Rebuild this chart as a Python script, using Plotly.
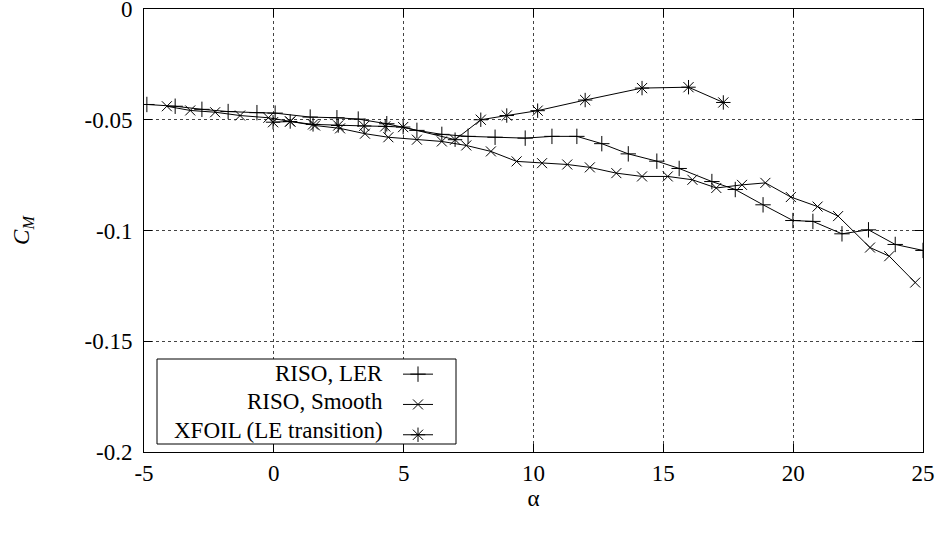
import plotly.graph_objects as go

# ---- data ----
alpha_ler = [-4.89, -3.80, -2.77, -1.76, -0.65, 0.05, 1.40, 2.43, 3.25, 4.35, 5.51, 6.47, 7.48, 8.52,
             9.68, 10.71, 11.67, 12.63, 13.65, 14.75, 15.61, 16.87, 17.77, 18.84, 19.99, 20.76,
             21.88, 22.90, 23.93, 25.0]
cm_ler = [-0.0431, -0.0439, -0.0453, -0.0463, -0.0468, -0.0470, -0.0488, -0.0491, -0.0497, -0.0518,
          -0.0548, -0.0566, -0.0575, -0.0579, -0.0583, -0.0575, -0.0575, -0.0608, -0.0654, -0.0687,
          -0.0720, -0.0779, -0.0815, -0.0884, -0.0955, -0.0959, -0.1015, -0.0997, -0.1063, -0.1090]

alpha_smooth = [-4.12, -3.22, -2.26, -1.30, -0.21, 0.63, 1.59, 2.55, 3.51, 4.41, 5.51, 6.47, 7.41, 8.36,
                9.35, 10.33, 11.30, 12.17, 13.19, 14.18, 15.17, 16.12, 17.04, 18.03, 18.93, 19.91,
                20.94, 21.73, 22.96, 23.70, 24.70]
cm_smooth = [-0.0439, -0.0458, -0.0466, -0.0481, -0.0491, -0.0508, -0.0526, -0.0539, -0.0563, -0.0579,
             -0.0590, -0.0598, -0.0616, -0.0643, -0.0688, -0.0696, -0.0702, -0.0715, -0.0741, -0.0756,
             -0.0756, -0.0771, -0.0808, -0.0794, -0.0785, -0.0849, -0.0892, -0.0935, -0.1077, -0.1116,
             -0.1235]

alpha_xfoil = [-0.03, 0.63, 1.51, 2.48, 3.48, 4.29, 4.98, 6.98, 7.97, 8.97, 10.16, 11.99, 14.18, 15.97, 17.31]
cm_xfoil = [-0.0511, -0.0508, -0.0521, -0.0526, -0.0528, -0.0530, -0.0533, -0.0590, -0.0500, -0.0481,
            -0.0459, -0.0411, -0.0357, -0.0353, -0.0422]

series_names = ["RISO, LER", "RISO, Smooth", "XFOIL (LE transition)"]
x_tickvals = [-5, 0, 5, 10, 15, 20, 25]
x_ticktext = ["-5", "0", "5", "10", "15", "20", "25"]
y_tickvals = [0, -0.05, -0.1, -0.15, -0.2]
y_ticktext = ["0", "-0.05", "-0.1", "-0.15", "-0.2"]

FONT = "Liberation Serif, Times New Roman, Times, serif"
FS = 23

symbols = ["cross-thin-open", "x-thin-open", "asterisk-open"]
sizes = [11, 10, 12]
xs = [alpha_ler, alpha_smooth, alpha_xfoil]
ys = [cm_ler, cm_smooth, cm_xfoil]

fig = go.Figure()
for name, x, y, sym, sz in zip(series_names, xs, ys, symbols, sizes):
    fig.add_trace(go.Scatter(
        x=x, y=y, name=name, mode="lines+markers", showlegend=False,
        line=dict(color="black", width=1),
        marker=dict(symbol=sym, size=sz, color="black", line=dict(color="black", width=1)),
    ))
# legend samples (no data, only for the key)
for sym, sz in zip(symbols, sizes):
    fig.add_trace(go.Scatter(
        x=[None], y=[None], name="", mode="lines+markers", showlegend=True,
        line=dict(color="black", width=1),
        marker=dict(symbol=sym, size=sz, color="black", line=dict(color="black", width=1)),
    ))

L, R, T, B = 144, 15, 9, 81
W, H = 938, 533
pw, ph = W - L - R, H - T - B


def px_x(p):
    return (p - L) / pw


def px_y(p):
    return (H - B - p) / ph


# legend box
fig.add_shape(type="rect", xref="paper", yref="paper",
              x0=px_x(157), x1=px_x(456), y0=px_y(444), y1=px_y(359),
              line=dict(color="black", width=1), fillcolor="white", layer="above")
row_y = [373, 401.5, 430]
for name, ry in zip(series_names, row_y):
    fig.add_annotation(text=name, xref="paper", yref="paper", x=px_x(385), y=px_y(ry),
                       xanchor="right", yanchor="middle", showarrow=False,
                       font=dict(family=FONT, size=FS, color="black"))

axis_common = dict(
    showline=True, linecolor="black", linewidth=1, mirror="ticks",
    ticks="inside", ticklen=8, tickcolor="black", tickwidth=1,
    showgrid=True, gridcolor="#444444", griddash="dot", gridwidth=1,
    zeroline=False, tickfont=dict(family=FONT, size=FS, color="black"),
    ticklabeloverflow="allow",
)

fig.update_layout(
    width=W, height=H,
    margin=dict(l=L, r=R, t=T, b=B, autoexpand=False),
    paper_bgcolor="white", plot_bgcolor="white",
    font=dict(family=FONT, size=FS, color="black"),
    xaxis=dict(range=[-5, 25], tickvals=x_tickvals, ticktext=x_ticktext,
               title=dict(text="α", standoff=0, font=dict(family=FONT, size=FS)),
               ticklabelstandoff=0, automargin=False, **axis_common),
    yaxis=dict(range=[-0.2, 0], tickvals=y_tickvals, ticktext=y_ticktext,
               title=dict(text="<i>C<sub>M</sub></i>", standoff=48, font=dict(family=FONT, size=FS)),
               ticklabelstandoff=6, automargin=False, **axis_common),
    legend=dict(x=px_x(398), y=px_y(354), xanchor="left", yanchor="top",
                bgcolor="rgba(0,0,0,0)", borderwidth=0, tracegroupgap=0,
                font=dict(family=FONT, size=21)),
    showlegend=True,
)

fig.write_html("out.html")
